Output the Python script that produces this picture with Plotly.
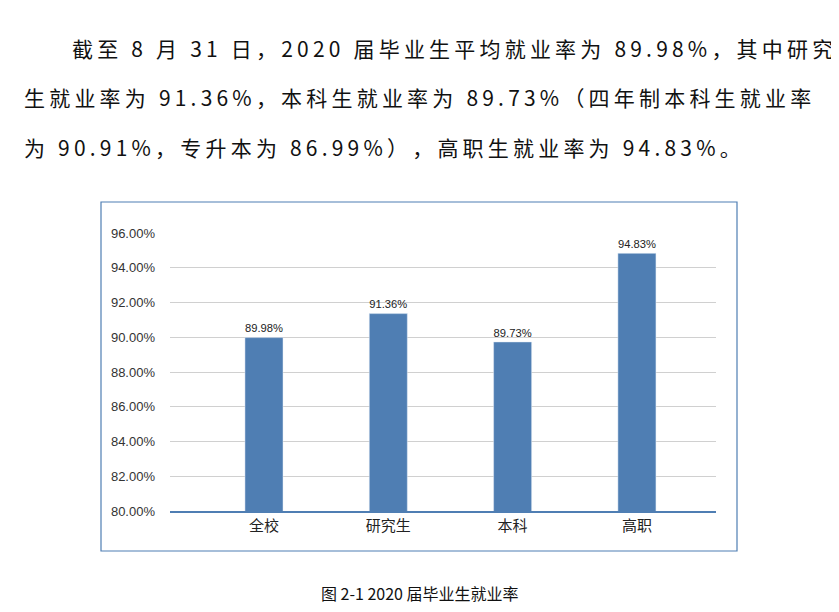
import plotly.graph_objects as go

categories = ["全校", "研究生", "本科", "高职"]
values = [89.98, 91.36, 89.73, 94.83]
labels = ["89.98%", "91.36%", "89.73%", "94.83%"]
yticks = [80, 82, 84, 86, 88, 90, 92, 94, 96]
ytick_text = [f"{v:.2f}%" for v in yticks]

W, H = 839, 612
OFF = 8  # page body margin
L, R, T, B = 170 - OFF, 716 - OFF, 233 - OFF, 511 - OFF

def px(x): return (x - OFF - L) / (R - L)
def py(y): return (B - (y - OFF)) / (B - T)

def spaced(s):
    return "\u2009".join(s)

xs = list(range(len(categories)))
fig = go.Figure(go.Bar(
    x=xs, y=values, width=0.306, marker_color="#4f7eb3",
    text=labels, textposition="outside", cliponaxis=False,
    textfont=dict(family="Liberation Sans Narrow, Liberation Sans", size=14, color="#222"),
))
fig.update_layout(
    width=W, height=H, margin=dict(l=L, r=W - R, t=T, b=H - B),
    plot_bgcolor="white", paper_bgcolor="white", showlegend=False,
    font=dict(family="Liberation Sans, Noto Sans CJK SC"),
    xaxis=dict(range=[-0.756, 3.636], tickmode="array", tickvals=xs, ticktext=categories,
               tickfont=dict(family="Noto Sans CJK SC", size=15, color="#222"),
               showline=True, linecolor="#4f7eb3", linewidth=1.5, ticks="", showgrid=False),
    yaxis=dict(range=[80, 96], tickmode="array", tickvals=yticks, ticktext=ytick_text,
               tickfont=dict(family="Liberation Sans Narrow, Liberation Sans", size=13, color="#333"),
               showgrid=True, gridcolor="#d0d0d0", zeroline=False, ticks="", ticklabelstandoff=14),
    shapes=[dict(type="rect", xref="paper", yref="paper",
                 x0=px(101), x1=px(737), y0=py(551), y1=py(202),
                 line=dict(color="#4f7eb3", width=1.2), fillcolor="rgba(0,0,0,0)")],
)
para = [
    (70, 48, "截至 8 月 31 日，2020 届毕业生平均就业率为 89.98%，其中研究"),
    (22, 97, "生就业率为 91.36%，本科生就业率为 89.73%（四年制本科生就业率"),
    (22, 147, "为 90.91%，专升本为 86.99%），高职生就业率为 94.83%。"),
]
for x, y, t in para:
    fig.add_annotation(x=px(x), y=py(y), xref="paper", yref="paper", text=spaced(t),
                       showarrow=False, xanchor="left", yanchor="middle",
                       font=dict(family="Noto Sans CJK SC", size=21, color="#111"))
fig.add_annotation(x=px(420), y=py(593), xref="paper", yref="paper",
                   text="图 2-1 2020 届毕业生就业率", showarrow=False,
                   xanchor="center", yanchor="middle",
                   font=dict(family="Noto Sans CJK SC", size=16, color="#111"))
fig.write_html("out.html")
